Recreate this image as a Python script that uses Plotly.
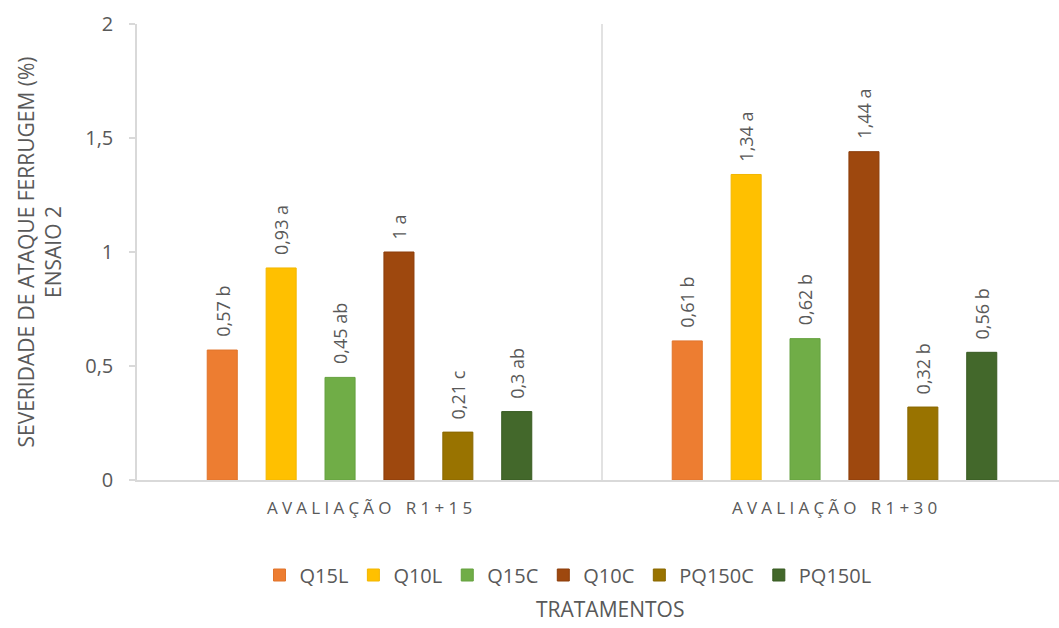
import plotly.graph_objects as go

# Data
avaliacoes = ["AVALIAÇÃO R1+15", "AVALIAÇÃO R1+30"]
tratamentos = ["Q15L", "Q10L", "Q15C", "Q10C", "PQ150C", "PQ150L"]
valores = {
    "Q15L":   [0.57, 0.61],
    "Q10L":   [0.93, 1.34],
    "Q15C":   [0.45, 0.62],
    "Q10C":   [1.00, 1.44],
    "PQ150C": [0.21, 0.32],
    "PQ150L": [0.30, 0.56],
}
letras = {
    "Q15L":   ["b", "b"],
    "Q10L":   ["a", "a"],
    "Q15C":   ["ab", "b"],
    "Q10C":   ["a", "a"],
    "PQ150C": ["c", "b"],
    "PQ150L": ["ab", "b"],
}
cores = {
    "Q15L": "#ED7D31",
    "Q10L": "#FFC000",
    "Q15C": "#70AD47",
    "Q10C": "#9E480E",
    "PQ150C": "#997300",
    "PQ150L": "#43682B",
}
bordas = {
    "Q15L": "#E0742C",
    "Q10L": "#F2B600",
    "Q15C": "#64A03E",
    "Q10C": "#8C3D0A",
    "PQ150C": "#8A6800",
    "PQ150L": "#385A22",
}

FONT = "Open Sans, sans-serif"
GRAY = "#595959"
AXIS = "#D9D9D9"

def fmt(v):
    s = f"{v:.2f}".rstrip("0").rstrip(".")
    return s.replace(".", ",")

def spaced(s):
    # wide letter spacing for the category labels
    return "\u2005".join(ch if ch != " " else "\u2004" for ch in s)

x_pos = list(range(len(avaliacoes)))
bargap = 0.24
n = len(tratamentos)
slot = (1 - bargap) / n

fig = go.Figure()
annotations = []
for i, t in enumerate(tratamentos):
    fig.add_trace(go.Bar(
        name=t,
        x=x_pos,
        y=valores[t],
        marker=dict(color=cores[t], line=dict(color=bordas[t], width=1)),
        hoverinfo="skip",
    ))
    offset = -(1 - bargap) / 2 + slot * (i + 0.5)
    for j, v in enumerate(valores[t]):
        annotations.append(dict(
            x=x_pos[j] + offset, y=v, xref="x", yref="y",
            text=f"{fmt(v)} {letras[t][j]}",
            textangle=-90, showarrow=False,
            xanchor="center", yanchor="bottom", yshift=11,
            font=dict(family=FONT, size=18, color=GRAY),
        ))

# separator between evaluation groups
fig.add_shape(type="line", xref="x", yref="y", x0=0.5, x1=0.5, y0=0, y1=2,
              line=dict(color=AXIS, width=1.5), layer="below")

annotations.append(dict(
    text="TRATAMENTOS", xref="paper", yref="paper", x=0.513, y=-0.318,
    xanchor="center", yanchor="bottom", showarrow=False,
    font=dict(family=FONT, size=21, color=GRAY),
))

fig.update_layout(
    width=1059, height=628,
    margin=dict(l=137, r=0, t=24, b=148),
    paper_bgcolor="white", plot_bgcolor="white",
    barmode="group", bargap=bargap, bargroupgap=0.49,
    font=dict(family=FONT, color=GRAY),
    annotations=annotations,
    legend=dict(
        orientation="h", xref="container", yref="container",
        x=568 / 1059, y=1 - 575 / 628, xanchor="center", yanchor="middle",
        font=dict(family=FONT, size=20, color=GRAY),
        itemwidth=30, traceorder="normal",
    ),
    showlegend=True,
)
fig.update_xaxes(
    range=[-0.5, 0.5 + (1059 - 602) / 465],
    tickvals=x_pos, ticktext=[spaced(a) for a in avaliacoes],
    tickfont=dict(family=FONT, size=17, color=GRAY),
    showline=True, linecolor=AXIS, linewidth=1.5,
    ticks="", ticklabelstandoff=12, showgrid=False, zeroline=False,
)
fig.update_yaxes(
    range=[0, 2], tickvals=[0, 0.5, 1, 1.5, 2],
    ticktext=["0", "0,5", "1", "1,5", "2"],
    tickfont=dict(family=FONT, size=20, color=GRAY),
    showline=True, linecolor=AXIS, linewidth=1.5,
    ticks="outside", ticklen=6, tickcolor=AXIS, tickwidth=1.5,
    ticklabelstandoff=12,
    showgrid=False, zeroline=False,
    title=dict(text="SEVERIDADE DE ATAQUE FERRUGEM (%)<br>ENSAIO 2",
               font=dict(family=FONT, size=21, color=GRAY), standoff=18),
)

fig.write_html("out.html")
